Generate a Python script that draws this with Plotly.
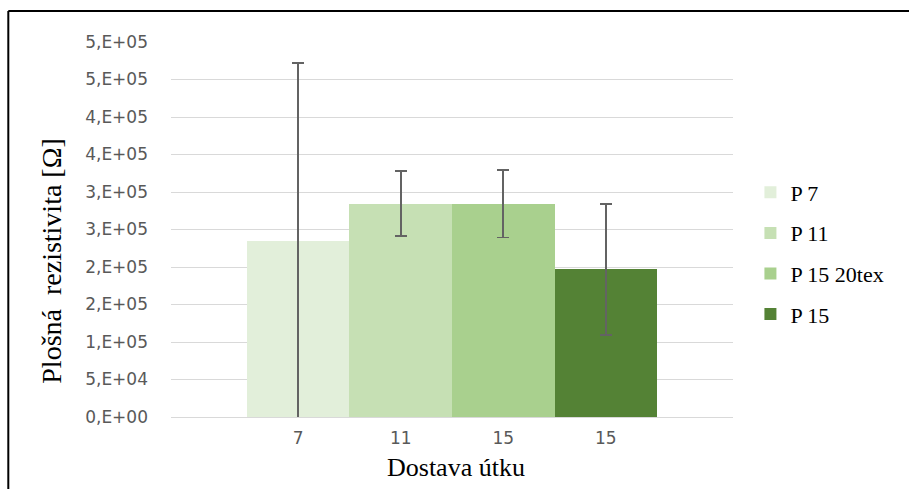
import plotly.graph_objects as go

# ---- data ----
series_names = ["P 7", "P 11", "P 15 20tex", "P 15"]
x_labels = ["7", "11", "15", "15"]
values = [235000, 284500, 284500, 196900]
errors = [237000, 43300, 45100, 87400]
colors = ["#E2EFDA", "#C6E0B4", "#A9D08E", "#548235"]

y_tickvals = [0, 50000, 100000, 150000, 200000, 250000, 300000, 350000, 400000, 450000, 500000]
y_ticktext = ["0,E+00", "5,E+04", "1,E+05", "2,E+05", "2,E+05", "3,E+05", "3,E+05",
              "4,E+05", "4,E+05", "5,E+05", "5,E+05"]

y_title = "Plošná  rezistivita [Ω]"
x_title = "Dostava útku"

fig = go.Figure()
positions = list(range(len(series_names)))
for i, name in enumerate(series_names):
    fig.add_trace(go.Bar(
        x=[positions[i]], y=[values[i]], name=name, width=1,
        marker=dict(color=colors[i], line=dict(width=0)),
        error_y=dict(type="data", array=[errors[i]], visible=True,
                     color="#636363", thickness=1.7, width=6),
        legendgroup=name,
    ))

tick_font = dict(family="DejaVu Sans", size=17, color="#595959")

fig.update_layout(
    width=909, height=489,
    margin=dict(l=171, r=176, t=42, b=72),
    paper_bgcolor="white", plot_bgcolor="white",
    bargap=0,
    showlegend=True,
    legend=dict(x=1.031, xanchor="left", y=0.6547, yanchor="top",
                font=dict(family="Liberation Serif", size=22, color="black"),
                tracegroupgap=9, traceorder="grouped",
                bgcolor="rgba(0,0,0,0)"),
    xaxis=dict(range=[-1.24, 4.24], tickmode="array", tickvals=positions, ticktext=x_labels,
               showgrid=False, zeroline=False, showline=True, linecolor="#D9D9D9", linewidth=1,
               ticks="", tickfont=tick_font, ticklabelstandoff=6),
    yaxis=dict(range=[0, 500000], tickmode="array", tickvals=y_tickvals, ticktext=y_ticktext,
               showgrid=True, gridcolor="#D9D9D9", gridwidth=1, zeroline=False, showline=False,
               ticks="", tickfont=tick_font, ticklabelstandoff=22),
    annotations=[
        dict(text=y_title, xref="paper", yref="paper", x=-0.2117, y=0.4168,
             xanchor="center", yanchor="middle", textangle=-90, showarrow=False,
             font=dict(family="Liberation Serif", size=28, color="black")),
        dict(text=x_title, xref="paper", yref="paper", x=0.507, y=-0.1345,
             xanchor="center", yanchor="middle", showarrow=False,
             font=dict(family="Liberation Serif", size=26, color="black")),
    ],
    shapes=[
        dict(type="line", xref="paper", yref="paper", x0=-0.2895, x1=-0.2895, y0=-1, y1=1.0826,
             line=dict(color="black", width=2)),
        dict(type="line", xref="paper", yref="paper", x0=-0.2895, x1=2, y0=1.0826, y1=1.0826,
             line=dict(color="black", width=2)),
    ],
)

fig.write_html("out.html", config={"displayModeBar": False},
               post_script="document.body.style.margin='0';document.body.style.overflow='hidden';")
